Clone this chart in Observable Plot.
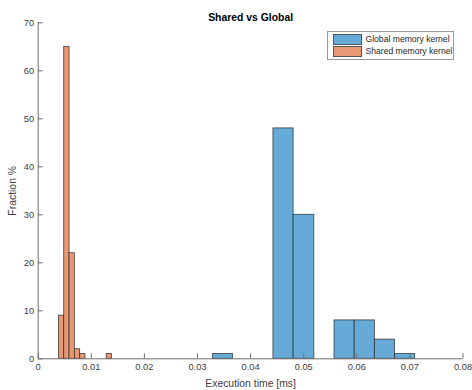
<!DOCTYPE html>
<html>
<head>
<meta charset="utf-8">
<script src="https://cdn.jsdelivr.net/npm/d3@7"></script>
<script src="https://cdn.jsdelivr.net/npm/@observablehq/plot@0.6"></script>
<style>
  html, body { margin: 0; padding: 0; background: #fff; }
  #wrap { position: relative; width: 472px; height: 390px; font-family: "Liberation Sans", Arial, sans-serif; }
  #legend { position: absolute; left: 326.5px; top: 31px; width: 125px; height: 26.5px; border: 1px solid #9a9a9a; background: #fff; font-size: 8.6px; color: #262626; }
  .item { position: absolute; left: 5px; height: 9.5px; display: flex; align-items: center; }
  .sw { width: 27px; height: 8.5px; border: 0.8px solid #555; margin-right: 4px; }
</style>
</head>
<body>
<div id="wrap"></div>
<script>
// ---- data ----
const seriesNames = ["Global memory kernel", "Shared memory kernel"];
const seriesColors = ["#66aad7", "#e89875"];

const globalEdges = [0.0329, 0.0367, 0.0405, 0.0443, 0.0481, 0.0520, 0.0558, 0.0596, 0.0634, 0.0672, 0.0710];
const globalFraction = [1, 0, 0, 48, 30, 0, 8, 8, 4, 1];

const sharedEdges = [0.0039, 0.0049, 0.0059, 0.0069, 0.0079, 0.0089, 0.0099, 0.0109, 0.0119, 0.0129, 0.0139];
const sharedFraction = [9, 65, 22, 2, 1, 0, 0, 0, 0, 1];

const xTicks = [0, 0.01, 0.02, 0.03, 0.04, 0.05, 0.06, 0.07, 0.08];
const xTickLabels = ["0", "0.01", "0.02", "0.03", "0.04", "0.05", "0.06", "0.07", "0.08"];
const yTicks = [0, 10, 20, 30, 40, 50, 60, 70];

const titleText = "Shared vs Global";
const xLabel = "Execution time [ms]";
const yLabel = "Fraction %";

// ---- build bin tables ----
function bins(edges, values, series) {
  return values.map((v, i) => ({x1: edges[i], x2: edges[i + 1], y: v, series})).filter(d => d.y > 0);
}
const globalBins = bins(globalEdges, globalFraction, seriesNames[0]);
const sharedBins = bins(sharedEdges, sharedFraction, seriesNames[1]);

const axisColor = "#262626";
const xFmt = d => xTickLabels[xTicks.indexOf(d)] ?? String(d);

const chart = Plot.plot({
  width: 472,
  height: 390,
  marginLeft: 37.7,
  marginRight: 9.5,
  marginTop: 22.3,
  marginBottom: 31.7,
  style: {fontFamily: "'Liberation Sans', Arial, sans-serif", background: "#fff", color: axisColor},
  x: {domain: [0, 0.08]},
  y: {domain: [0, 70]},
  marks: [
    Plot.rectY(globalBins, {x1: "x1", x2: "x2", y: "y", fill: seriesColors[0], stroke: "#262626", strokeWidth: 0.8, strokeOpacity: 0.85}),
    Plot.rectY(sharedBins, {x1: "x1", x2: "x2", y: "y", fill: seriesColors[1], stroke: "#262626", strokeWidth: 0.8, strokeOpacity: 0.85}),
    // axis lines
    Plot.ruleY([0], {stroke: "#6e6e6e", strokeWidth: 1}),
    Plot.ruleX([0], {stroke: "#6e6e6e", strokeWidth: 1}),
    // inward ticks
    Plot.axisX(xTicks, {tickSize: 5, dy: -5, text: null, label: null, stroke: "#6e6e6e"}),
    Plot.axisY(yTicks, {tickSize: 5, dx: 5, text: null, label: null, stroke: "#6e6e6e"}),
    // tick labels + axis labels
    Plot.axisX(xTicks, {tickSize: 0, tickPadding: 5, fontSize: 9.3, fill: "#404040", tickFormat: xFmt, label: xLabel, labelAnchor: "center", labelArrow: "none", labelOffset: 28}),
    Plot.axisY(yTicks, {tickSize: 0, tickPadding: 4, fontSize: 9.3, fill: "#404040", label: yLabel, labelAnchor: "center", labelArrow: "none", labelOffset: 30}),
    // title
    Plot.text([titleText], {frameAnchor: "top", dy: -9, fontSize: 10.4, fontWeight: "bold", fill: "#000"})
  ]
});

const wrap = document.getElementById("wrap");
wrap.appendChild(chart);
// MATLAB axis labels are 1.1x the tick-label size
chart.querySelectorAll("[aria-label='x-axis label'] text, [aria-label='y-axis label'] text").forEach(t => {
  t.setAttribute("font-size", "10.4");
  t.style.fontSize = "10.4px";
});

// legend
const legend = document.createElement("div");
legend.id = "legend";
seriesNames.forEach((name, i) => {
  const item = document.createElement("div");
  item.className = "item";
  item.style.top = (2.5 + i * 12) + "px";
  const sw = document.createElement("div");
  sw.className = "sw";
  sw.style.background = seriesColors[i];
  item.appendChild(sw);
  const lab = document.createElement("span");
  lab.textContent = name;
  item.appendChild(lab);
  legend.appendChild(item);
});
wrap.appendChild(legend);
</script>
</body>
</html>
